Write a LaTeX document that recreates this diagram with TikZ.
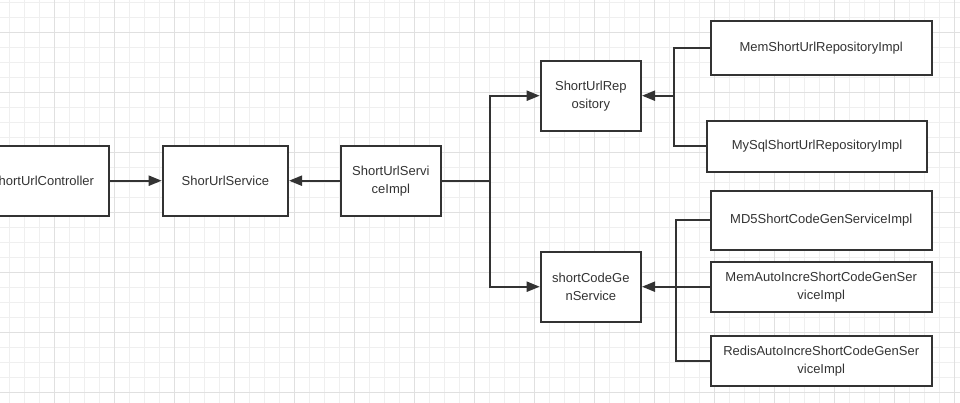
\documentclass[tikz,border=0pt]{standalone}
\usepackage{fontspec}
\setmainfont{Liberation Sans}
\usetikzlibrary{arrows.meta}
\definecolor{ink}{HTML}{333333}
\definecolor{minorgrid}{HTML}{EFEFEF}
\definecolor{majorgrid}{HTML}{E0E0E0}
\begin{document}
\begin{tikzpicture}[x=1pt,y=-1pt,
  box/.style={draw=ink, line width=2pt, fill=white, text=ink,
    font=\fontsize{13}{18}\selectfont, align=center, inner sep=0pt},
  conn/.style={draw=ink, line width=2pt},
  arr/.style={conn, -{Triangle[length=13pt,width=10pt]}}]
\useasboundingbox (0,0) rectangle (960,403);
\clip (0,0) rectangle (960,403);
\fill[white] (0,0) rectangle (960,403);
% grid
\foreach \i in {0,...,63} {\draw[minorgrid, line width=1pt] (9.3+15*\i,0) -- (9.3+15*\i,403);}
\foreach \i in {0,...,27} {\draw[minorgrid, line width=1pt] (0,2.3+15*\i) -- (960,2.3+15*\i);}
\foreach \i in {-1,...,15} {\draw[majorgrid, line width=1pt] (54.3+60*\i,0) -- (54.3+60*\i,403);}
\foreach \i in {-1,...,6} {\draw[majorgrid, line width=1pt] (0,32.3+60*\i) -- (960,32.3+60*\i);}
% nodes
\node[box, minimum width=134pt, minimum height=70pt] (ctrl) at (42,180.7) {ShortUrlController};
\node[box, minimum width=125.3pt, minimum height=70pt] (svc) at (225.35,180.7) {ShorUrlService};
\node[box, minimum width=100.3pt, minimum height=70pt] (impl) at (390.85,180.7) {ShortUrlServi\\ceImpl};
\node[box, minimum width=100.3pt, minimum height=70pt] (repo) at (590.85,95.7) {ShortUrlRep\\ository};
\node[box, minimum width=100.3pt, minimum height=70pt] (gen) at (590.85,286.7) {shortCodeGe\\nService};
\node[box, minimum width=221pt, minimum height=54.3pt] (memrepo) at (821.2,47.85) {MemShortUrlRepositoryImpl};
\node[box, minimum width=220.6pt, minimum height=51.3pt] (mysql) at (817,146.35) {MySqlShortUrlRepositoryImpl};
\node[box, minimum width=221pt, minimum height=59.3pt] (md5) at (821.2,220.35) {MD5ShortCodeGenServiceImpl};
\node[box, minimum width=221pt, minimum height=50pt] (memauto) at (821.2,286.7) {MemAutoIncreShortCodeGenSer\\viceImpl};
\node[box, minimum width=221pt, minimum height=50pt] (redis) at (821.2,360.7) {RedisAutoIncreShortCodeGenSer\\viceImpl};
% connectors
\draw[arr] (ctrl.east) -- (svc.west);
\draw[arr] (impl.west) -- (svc.east);
\coordinate (fork) at (490,180.7);
\draw[conn] (impl.east) -- (fork);
\draw[arr] (fork) |- (repo.west);
\draw[arr] (fork) |- (gen.west);
\coordinate (rjoin) at (674,95.7);
\draw[arr] (rjoin) -- (repo.east);
\draw[conn] (memrepo.west) -| (rjoin);
\draw[conn] (mysql.west) -| (rjoin);
\coordinate (gjoin) at (676,286.7);
\draw[arr] (memauto.west) -- (gen.east);
\draw[conn] (md5.west) -| (gjoin);
\draw[conn] (redis.west) -| (gjoin);
\end{tikzpicture}
\end{document}
